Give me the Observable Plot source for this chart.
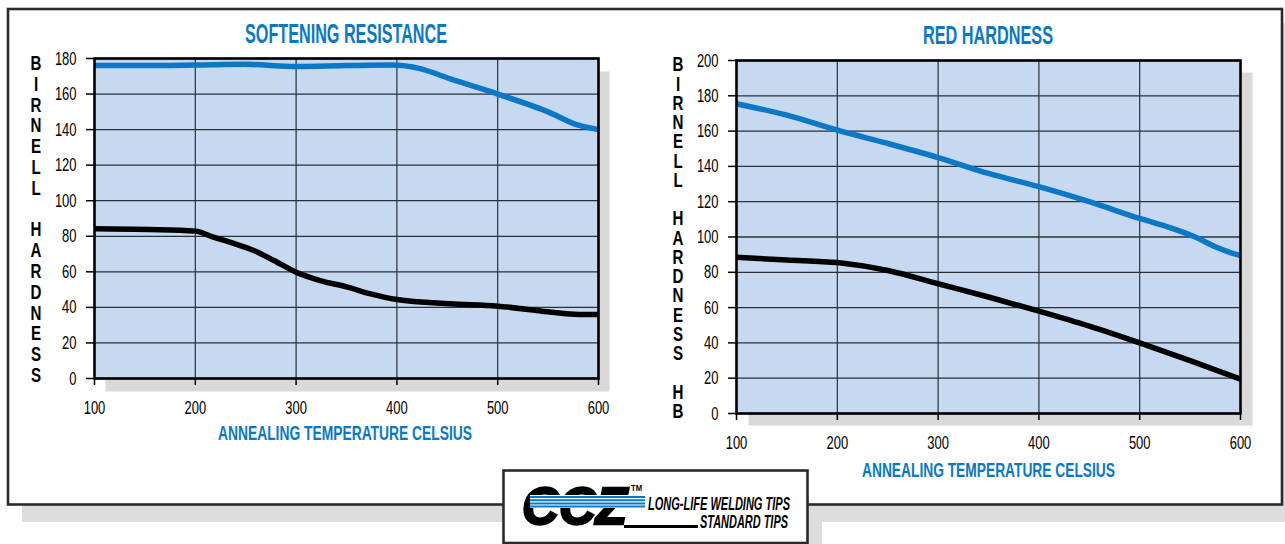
<!DOCTYPE html>
<html><head><meta charset="utf-8">
<script src="https://cdn.jsdelivr.net/npm/d3@7"></script>
<script src="https://cdn.jsdelivr.net/npm/@observablehq/plot@0.6"></script>
<style>
body{margin:0;background:#fff;}
#root{position:relative;width:1285px;height:544px;overflow:hidden;background:#fff;}
#root > svg{position:absolute;}
</style></head><body><div id="root"></div>
<script>
// ---------- DATA ----------
const temperatureTicks = [100, 200, 300, 400, 500, 600];
const softeningTicks = [0, 20, 40, 60, 80, 100, 120, 140, 160, 180];
const redHardnessTicks = [0, 20, 40, 60, 80, 100, 120, 140, 160, 180, 200];

const seriesNames = ["LONG-LIFE WELDING TIPS", "STANDARD TIPS"];
const seriesColors = ["#0a78c6", "#000000"];

// Softening resistance
const softLongLifeTemp = [100, 150, 200, 250, 300, 350, 395, 423, 453, 500, 550, 580, 600];
const softLongLifeHB   = [176, 176, 176.3, 176.7, 175.5, 176, 176.3, 174.3, 168.5, 160, 150, 142.5, 140];
const softStandardTemp = [100, 155, 200, 218, 238, 258, 278, 300, 324, 351, 374, 400, 453, 500, 550, 580, 600];
const softStandardHB   = [84.2, 83.8, 82.9, 79.5, 76, 72, 66.4, 59.8, 55.1, 51.4, 47.6, 44.4, 42, 40.7, 37.5, 36, 36];

// Red hardness
const redLongLifeTemp = [100, 150, 200, 250, 300, 350, 400, 450, 500, 530, 555, 575, 590, 600];
const redLongLifeHB   = [175.5, 169, 160.5, 153, 145, 136, 128.5, 120, 110.5, 105.3, 100, 94.5, 91.2, 89.5];
const redStandardTemp = [100, 150, 200, 250, 300, 350, 400, 450, 500, 550, 600];
const redStandardHB   = [88.5, 87, 85.5, 81, 73.5, 66, 58, 49.5, 40, 30, 19.5];

const chartTitles = ["SOFTENING RESISTANCE", "RED HARDNESS"];
const xAxisTitle = "ANNEALING TEMPERATURE CELSIUS";
const yAxisTitles = ["BIRNELL HARDNESS", "BIRNELL HARDNESS HB"];

// ---------- HELPERS ----------
const root = document.getElementById("root");
const BLUE_TEXT = "#0a78c4";
const FONT = "'Liberation Sans', Arial, sans-serif";

function toRows(temps, values, series) {
  return temps.map((t, i) => ({temp: t, hb: values[i], series}));
}

function squeezeTicks(svg) {
  d3.select(svg).selectAll('[aria-label$="tick label"] text').each(function () {
    const s = this.textContent;
    d3.select(this).attr("textLength", s.length * 7.2).attr("lengthAdjust", "spacingAndGlyphs");
  });
}

function makeChart({rows, yTicks, yMax, width, height, margins, shadow}) {
  const svg = Plot.plot({
    width, height,
    marginLeft: margins[3], marginRight: margins[1], marginTop: margins[0], marginBottom: margins[2],
    style: {background: "transparent", overflow: "visible", fontFamily: FONT, fontSize: "19px", color: "#000"},
    x: {domain: [100, 600]},
    y: {domain: [0, yMax]},
    color: {domain: seriesNames, range: seriesColors},
    marks: [
      Plot.frame({fill: "#d9d9d9", stroke: null, dx: shadow[0], dy: shadow[1]}),
      Plot.frame({fill: "#c6d9f0", stroke: null}),
      Plot.gridX(temperatureTicks, {stroke: "#1d2127", strokeOpacity: 1, strokeWidth: 1.1}),
      Plot.gridY(yTicks, {stroke: "#2a3038", strokeOpacity: 1, strokeWidth: 1.3}),
      Plot.line(rows, {x: "temp", y: "hb", z: "series", stroke: "series", strokeWidth: 5.5, curve: "monotone-x", clip: true, strokeLinecap: "butt"}),
      Plot.frame({stroke: "#000", strokeWidth: 2.6}),
      Plot.axisX(temperatureTicks, {tickSize: 7, tickPadding: 15, label: null, fontSize: 19, strokeWidth: 1.5}),
      Plot.axisY(yTicks, {tickSize: 8, tickPadding: 10, label: null, fontSize: 19, strokeWidth: 1.5})
    ]
  });
  squeezeTicks(svg);
  return svg;
}

// ---------- BACKGROUND (frame, shadows, legend box) ----------
const bg = d3.select(root).append("svg").attr("width", 1285).attr("height", 544).style("left", "0px").style("top", "0px");
bg.append("rect").attr("x", 22).attr("y", 23).attr("width", 1290).attr("height", 499).attr("fill", "#dcdddf");
bg.append("rect").attr("x", 517).attr("y", 484).attr("width", 305).attr("height", 80).attr("fill", "#dcdddf");
bg.append("rect").attr("x", 8).attr("y", 9).attr("width", 1274).attr("height", 495.5).attr("fill", "#fff").attr("stroke", "#2a2a2a").attr("stroke-width", 2.6);
bg.append("rect").attr("x", 503.5).attr("y", 470.5).attr("width", 304).attr("height", 72.5).attr("fill", "#fff").attr("stroke", "#2a2a2a").attr("stroke-width", 2.6);

// ---------- CHARTS ----------
const leftRows = toRows(softLongLifeTemp, softLongLifeHB, seriesNames[0]).concat(toRows(softStandardTemp, softStandardHB, seriesNames[1]));
const rightRows = toRows(redLongLifeTemp, redLongLifeHB, seriesNames[0]).concat(toRows(redStandardTemp, redStandardHB, seriesNames[1]));

const left = makeChart({rows: leftRows, yTicks: softeningTicks, yMax: 180, width: 640, height: 460, margins: [58, 42, 82, 94], shadow: [11, 13]});
left.style.left = "0px"; left.style.top = "0px";
root.appendChild(left);

const right = makeChart({rows: rightRows, yTicks: redHardnessTicks, yMax: 200, width: 645, height: 490, margins: [60, 45, 77, 96], shadow: [12, 12]});
right.style.left = "640px"; right.style.top = "0px";
root.appendChild(right);

// ---------- OVERLAY TEXT ----------
const ov = d3.select(root).append("svg").attr("width", 1285).attr("height", 544).style("left", "0px").style("top", "0px").style("pointer-events", "none");

function fitText(g, str, x, y, len, size, opts = {}) {
  return g.append("text").attr("x", x).attr("y", y).text(str)
    .attr("font-family", FONT).attr("font-size", size)
    .attr("font-weight", opts.weight || "bold").attr("font-style", opts.style || "normal")
    .attr("fill", opts.fill || "#000")
    .attr("textLength", len).attr("lengthAdjust", "spacingAndGlyphs");
}

// chart titles
fitText(ov, chartTitles[0], 245, 43, 202, 27, {fill: BLUE_TEXT});
fitText(ov, chartTitles[1], 923, 44, 130, 25, {fill: BLUE_TEXT});
// x-axis titles
fitText(ov, xAxisTitle, 218, 440, 254, 21, {fill: BLUE_TEXT});
fitText(ov, xAxisTitle, 862, 477, 253, 21, {fill: BLUE_TEXT});

// stacked (upright vertical) y-axis titles, one text element each
function stacked(str, cx, firstCenter, step) {
  const fs = 21;
  ov.append("g").attr("transform", `translate(${cx},0) scale(0.72,1)`)
    .append("text").text(str)
    .attr("x", 0).attr("y", firstCenter - step / 2)
    .style("writing-mode", "vertical-rl").style("text-orientation", "upright")
    .attr("textLength", str.length * step).attr("lengthAdjust", "spacing")
    .attr("font-family", FONT).attr("font-size", fs).attr("font-weight", "bold").attr("fill", "#000");
}
stacked(yAxisTitles[0], 36, 61, 21);
stacked(yAxisTitles[1], 678, 61.7, 19.5);

// ---------- LEGEND ----------
const lg = ov.append("g");
fitText(lg, "CCZ", 522, 523.5, 105, 51, {style: "italic"}).attr("stroke", "#000").attr("stroke-width", 2.4);
lg.append("rect").attr("x", 530).attr("y", 495).attr("width", 115).attr("height", 13).attr("fill", "#fff");
[497, 500.2, 503.4, 506.4].forEach(y => {
  lg.append("line").attr("x1", 530).attr("x2", 645).attr("y1", y).attr("y2", y)
    .attr("stroke", seriesColors[0]).attr("stroke-width", 2);
});
fitText(lg, "TM", 631, 491, 11, 9);
fitText(lg, seriesNames[0], 648, 509.5, 142, 18, {style: "italic"});
lg.append("line").attr("x1", 624).attr("x2", 698).attr("y1", 526.5).attr("y2", 526.5).attr("stroke", seriesColors[1]).attr("stroke-width", 3);
fitText(lg, seriesNames[1], 700, 528, 88, 18, {style: "italic"});
</script></body></html>
